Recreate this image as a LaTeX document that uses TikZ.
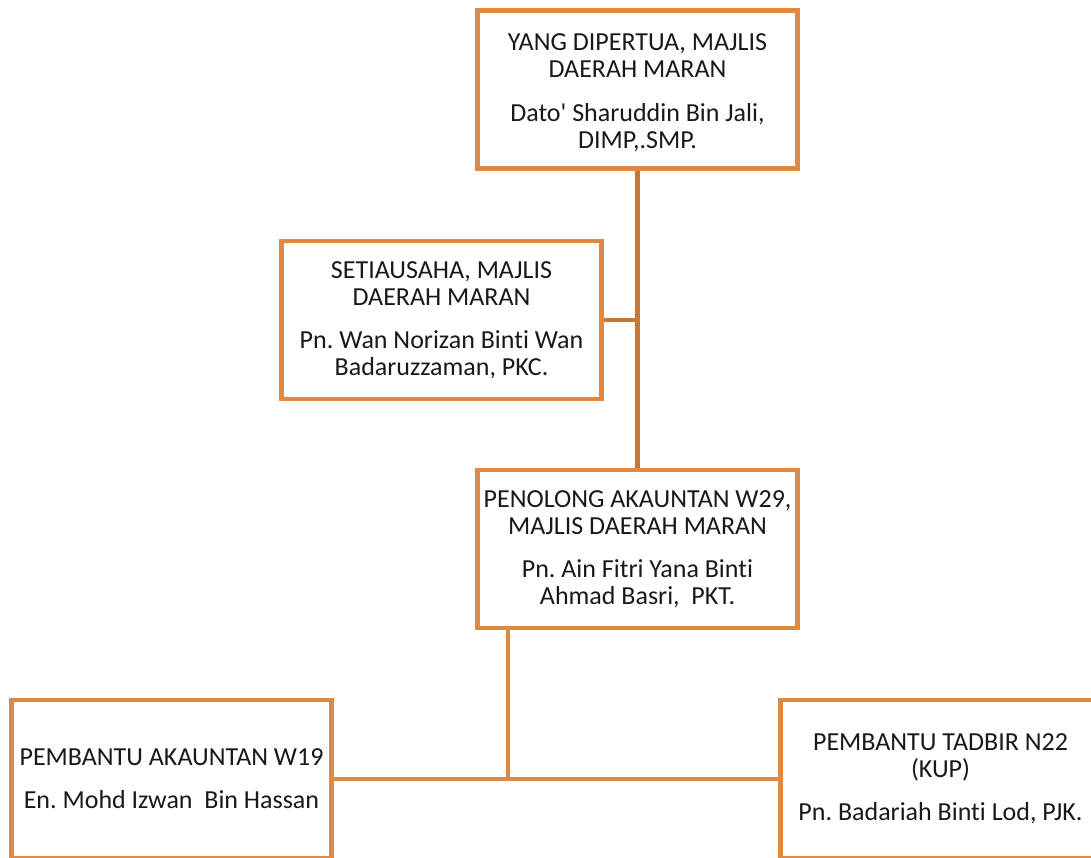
\documentclass[tikz,border=0pt]{standalone}
\usepackage{fontspec}
\setmainfont[Ligatures={TeX,NoCommon}]{Carlito}
\definecolor{boxc}{RGB}{224,137,64}
\definecolor{linec}{RGB}{196,119,54}
\definecolor{txt}{RGB}{25,25,25}
\frenchspacing
\begin{document}
\begin{tikzpicture}[x=1pt,y=-1pt,
  boxtext/.style={inner sep=0pt, align=center, text=txt, font=\fontsize{26}{27}\selectfont},
  orgbox/.style={boxtext, draw=boxc, line width=4.6pt, fill=white, minimum width=320pt, minimum height=158pt},
  conn/.style={line width=4.6pt},
]
\clip (0,0) rectangle (1091,857);
\fill[white] (0,0) rectangle (1091,857);
\node[orgbox] (top) at (637.5,89.5) {};
\node[boxtext] (toptext) at ([yshift=-3pt]top.center) {YANG DIPERTUA, MAJLIS\\DAERAH MARAN\\[17pt]Dato\textquotesingle\ Sharuddin Bin Jali,\\DIMP,.SMP.};
\node[orgbox] (sec) at (441.5,320) {SETIAUSAHA, MAJLIS\\DAERAH MARAN\\[16pt]Pn. Wan Norizan Binti Wan\\Badaruzzaman, PKC.};
\node[orgbox] (pen) at (637.5,549) {PENOLONG AKAUNTAN W29,\\MAJLIS DAERAH MARAN\\[16pt]Pn. Ain Fitri Yana Binti\\Ahmad Basri,\ \ PKT.};
\node[orgbox] (left) at (171.5,779) {PEMBANTU AKAUNTAN W19\\[16pt]En. Mohd Izwan\ \ Bin Hassan};
\node[orgbox] (right) at (940.5,779) {PEMBANTU TADBIR N22\\(KUP)\\[16pt]Pn. Badariah Binti Lod, PJK.};
\coordinate (j) at (508,779);
\draw[conn, draw=linec] (top.south) -- (pen.north);
\draw[conn, draw=linec] (sec.east) -- (sec.east -| top.south);
\draw[conn, draw=boxc] (pen.south -| j) -- (j);
\draw[conn, draw=boxc] (left.east) -- (j) -- (right.west);
\end{tikzpicture}
\end{document}
